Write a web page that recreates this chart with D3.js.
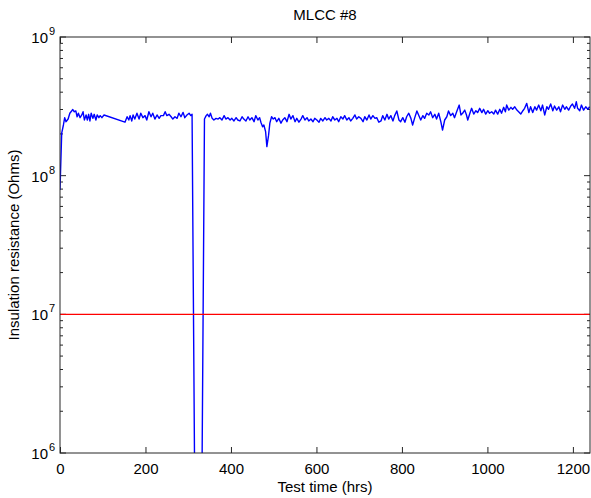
<!DOCTYPE html>
<html>
<head>
<meta charset="utf-8">
<script src="https://cdn.jsdelivr.net/npm/d3@7"></script>
<style>
  body { margin: 0; background: #fff; }
  text { font-family: "Liberation Sans", Arial, sans-serif; fill: #000; }
</style>
</head>
<body>
<script>
// MLCC #8 insulation resistance test

var WIDTH = 591
var HEIGHT = 498
var LEFT = 60, TOP = 37, RIGHT = 590, BOTTOM = 453

var title = "MLCC #8"
var xLabel = "Test time (hrs)"
var yLabel = "Insulation resistance (Ohms)"

var xTicks = [0, 200, 400, 600, 800, 1000, 1200]
var yDecades = [6, 7, 8, 9]
var limitOhms = 1e7

// test time in hours
var hours = [0, 4, 8, 11, 14, 19, 23, 30, 33, 37, 40, 43, 47, 51, 54, 57, 61, 64, 67, 70,
  73, 77, 80, 84, 87, 91, 94, 98, 103, 152, 157, 161, 164, 168, 171, 175, 180, 185, 189, 194,
  199, 203, 208, 213, 217, 222, 227, 232, 236, 242, 246, 250, 255, 260, 264, 269, 274, 278, 283, 288,
  292, 297, 302, 306, 309, 316, 322, 328, 331, 338, 342, 345, 349, 352, 356, 360, 365, 370, 374, 379,
  384, 388, 393, 398, 402, 407, 412, 416, 421, 426, 430, 435, 440, 444, 449, 454, 458, 463, 467, 470,
  474, 477, 481, 484, 488, 491, 495, 499, 503, 507, 512, 517, 521, 526, 531, 536, 540, 545, 550, 554,
  559, 564, 568, 573, 578, 582, 587, 592, 596, 601, 606, 610, 615, 620, 624, 629, 634, 638, 643, 648,
  652, 657, 662, 666, 671, 676, 680, 685, 690, 694, 699, 704, 709, 713, 718, 723, 727, 732, 737, 741,
  746, 751, 755, 760, 765, 769, 774, 779, 783, 788, 793, 797, 802, 807, 811, 816, 821, 825, 830, 835,
  839, 844, 849, 853, 858, 863, 867, 872, 877, 881, 886, 891, 895, 900, 905, 909, 914, 919, 923, 928,
  934, 938, 942, 947, 951, 954, 959, 963, 968, 973, 977, 982, 987, 991, 996, 1001, 1005, 1010, 1015, 1019,
  1024, 1029, 1033, 1038, 1042, 1045, 1050, 1055, 1059, 1064, 1069, 1073, 1078, 1083, 1087, 1092, 1097, 1101, 1106, 1111,
  1115, 1120, 1125, 1129, 1134, 1139, 1143, 1148, 1153, 1157, 1162, 1167, 1171, 1176, 1181, 1185, 1190, 1195, 1199, 1204,
  1208, 1211, 1216, 1220, 1225, 1230, 1235, 1239]

// insulation resistance, in units of 1e8 Ohms
var resistance = [0.79, 2.03, 2.32, 2.62, 2.45, 2.56, 2.82, 3.0, 2.89, 2.93, 2.66, 2.82, 2.62, 2.74, 2.89, 2.52, 2.74, 2.52, 2.77, 2.48,
  2.82, 2.59, 2.77, 2.52, 2.74, 2.62, 2.71, 2.62, 2.74, 2.43, 2.66, 2.52, 2.71, 2.48, 2.74, 2.56, 2.82, 2.56, 2.82, 2.62,
  2.71, 2.52, 2.89, 2.66, 2.82, 2.56, 2.74, 2.59, 2.71, 2.71, 2.89, 2.71, 2.77, 2.66, 2.56, 2.66, 2.59, 2.82, 2.66, 2.86,
  2.62, 2.74, 2.82, 2.71, 2.77, 0.0025, 0.002, 0.002, 0.002, 2.56, 2.71, 2.77, 2.66, 2.82, 2.59, 2.52, 2.59, 2.56, 2.62, 2.52,
  2.71, 2.56, 2.62, 2.52, 2.59, 2.48, 2.62, 2.52, 2.48, 2.66, 2.56, 2.48, 2.66, 2.52, 2.62, 2.45, 2.71, 2.52, 2.62, 2.43,
  2.25, 2.32, 2.08, 1.62, 1.96, 2.39, 2.66, 2.56, 2.62, 2.45, 2.59, 2.39, 2.52, 2.62, 2.45, 2.77, 2.56, 2.71, 2.45, 2.59,
  2.43, 2.56, 2.71, 2.52, 2.62, 2.48, 2.56, 2.45, 2.59, 2.52, 2.43, 2.59, 2.48, 2.62, 2.52, 2.59, 2.48, 2.66, 2.52, 2.59,
  2.45, 2.66, 2.56, 2.71, 2.52, 2.62, 2.48, 2.59, 2.74, 2.56, 2.66, 2.59, 2.45, 2.66, 2.52, 2.74, 2.56, 2.71, 2.59, 2.62,
  2.43, 2.48, 2.71, 2.52, 2.77, 2.56, 2.71, 2.48, 2.71, 2.93, 2.52, 2.45, 2.62, 2.43, 2.66, 2.82, 2.59, 2.32, 2.62, 2.93,
  2.74, 2.52, 2.71, 2.59, 2.82, 2.74, 2.89, 2.62, 2.77, 2.56, 2.82, 2.45, 2.13, 2.52, 2.66, 2.93, 2.71, 2.82, 2.62, 2.89,
  3.23, 2.74, 2.82, 2.97, 2.74, 2.52, 2.82, 3.06, 2.78, 2.94, 2.85, 3.06, 2.85, 3.01, 2.78, 2.94, 2.82, 2.89, 2.78, 2.97,
  2.78, 3.01, 2.82, 3.11, 2.89, 3.23, 2.97, 3.11, 3.01, 3.14, 2.97, 2.89, 2.78, 2.94, 3.06, 3.32, 2.85, 3.14, 2.85, 3.14,
  2.97, 3.23, 2.94, 3.23, 2.74, 3.14, 3.01, 3.29, 2.94, 3.18, 2.97, 3.14, 2.89, 3.23, 3.01, 3.14, 2.97, 3.18, 3.29, 3.06,
  3.41, 3.06, 2.94, 3.23, 2.97, 3.14, 3.01, 3.14]
var UNIT = 1e8

window.onload = function() {
  makegraph()
};

function makegraph()
{
  var svg = d3.select("body").append("svg")
              .attr("width", WIDTH).attr("height", HEIGHT)

  var xScale = d3.scaleLinear().domain([0, 1240]).range([LEFT, RIGHT])
  var yScale = d3.scaleLog().domain([1e6, 1e9]).range([BOTTOM, TOP])

  svg.append("clipPath").attr("id", "plotclip")
     .append("rect").attr("x", LEFT).attr("y", TOP)
     .attr("width", RIGHT - LEFT).attr("height", BOTTOM - TOP)

  // x axis, ticks pointing inward like matlab
  var xAxis = svg.append("g").attr("class", "xaxis")
                 .attr("transform", "translate(0," + BOTTOM + ")")
                 .call(d3.axisBottom(xScale).tickValues(xTicks).tickSize(-6)
                         .tickPadding(10).tickSizeOuter(0).tickFormat(d3.format("d")))
  xAxis.select(".domain").remove()
  xAxis.selectAll("line").attr("stroke", "#262626")
  xAxis.selectAll("text").attr("font-size", 15).attr("fill", "#000")
       .attr("font-family", "Liberation Sans, Arial, sans-serif")

  var topAxis = svg.append("g")
                   .attr("transform", "translate(0," + TOP + ")")
                   .call(d3.axisTop(xScale).tickValues(xTicks).tickSize(-6)
                           .tickFormat("").tickSizeOuter(0))
  topAxis.select(".domain").remove()
  topAxis.selectAll("line").attr("stroke", "#262626")

  // log y ticks, major and minor, on both sides
  var minor = []
  yDecades.forEach(function(d)
  {
    if (d < 9)
    {
      for (var m = 2; m < 10; m++) minor.push(m * Math.pow(10, d))
    }
  })
  var major = yDecades.map(function(d) { return Math.pow(10, d) })

  ;[[LEFT, 1], [RIGHT, -1]].forEach(function(side)
  {
    svg.selectAll(null).data(major).enter().append("line")
       .attr("x1", side[0]).attr("x2", side[0] + side[1] * 6)
       .attr("y1", function(d) { return yScale(d) })
       .attr("y2", function(d) { return yScale(d) })
       .attr("stroke", "#262626")
    svg.selectAll(null).data(minor).enter().append("line")
       .attr("x1", side[0]).attr("x2", side[0] + side[1] * 3)
       .attr("y1", function(d) { return yScale(d) })
       .attr("y2", function(d) { return yScale(d) })
       .attr("stroke", "#262626")
  })

  var ylabels = svg.selectAll(".ytick").data(yDecades).enter().append("g")
                   .attr("class", "ytick")
  ylabels.append("text")
         .attr("x", 48).attr("y", function(d) { return yScale(Math.pow(10, d)) + 6 })
         .attr("text-anchor", "end").attr("font-size", 15)
         .text("10")
  ylabels.append("text")
         .attr("x", 49).attr("y", function(d) { return yScale(Math.pow(10, d)) - 2 })
         .attr("font-size", 11)
         .text(function(d) { return d })

  // the data
  var line = d3.line()
               .x(function(d, i) { return xScale(hours[i]) })
               .y(function(d) { return yScale(d * UNIT) })
  svg.append("path").datum(resistance)
     .attr("clip-path", "url(#plotclip)")
     .attr("d", line)
     .attr("fill", "none").attr("stroke", "#0000ff")
     .attr("stroke-width", 1.4).attr("stroke-linejoin", "round")

  // failure limit
  svg.append("line").attr("clip-path", "url(#plotclip)")
     .attr("x1", LEFT).attr("x2", RIGHT)
     .attr("y1", yScale(limitOhms)).attr("y2", yScale(limitOhms))
     .attr("stroke", "#ff0000").attr("stroke-width", 1.2)

  // box
  svg.append("rect").attr("x", LEFT).attr("y", TOP)
     .attr("width", RIGHT - LEFT).attr("height", BOTTOM - TOP)
     .attr("fill", "none").attr("stroke", "#262626").attr("stroke-width", 1)

  svg.append("text").attr("x", (LEFT + RIGHT) / 2).attr("y", 20)
     .attr("text-anchor", "middle").attr("font-size", 15).text(title)
  svg.append("text").attr("x", (LEFT + RIGHT) / 2).attr("y", 492)
     .attr("text-anchor", "middle").attr("font-size", 15).text(xLabel)
  svg.append("text")
     .attr("transform", "translate(" + 19 + "," + ((TOP + BOTTOM) / 2) + ")rotate(-90)")
     .attr("text-anchor", "middle").attr("font-size", 15).text(yLabel)
}
</script>
</body>
</html>
